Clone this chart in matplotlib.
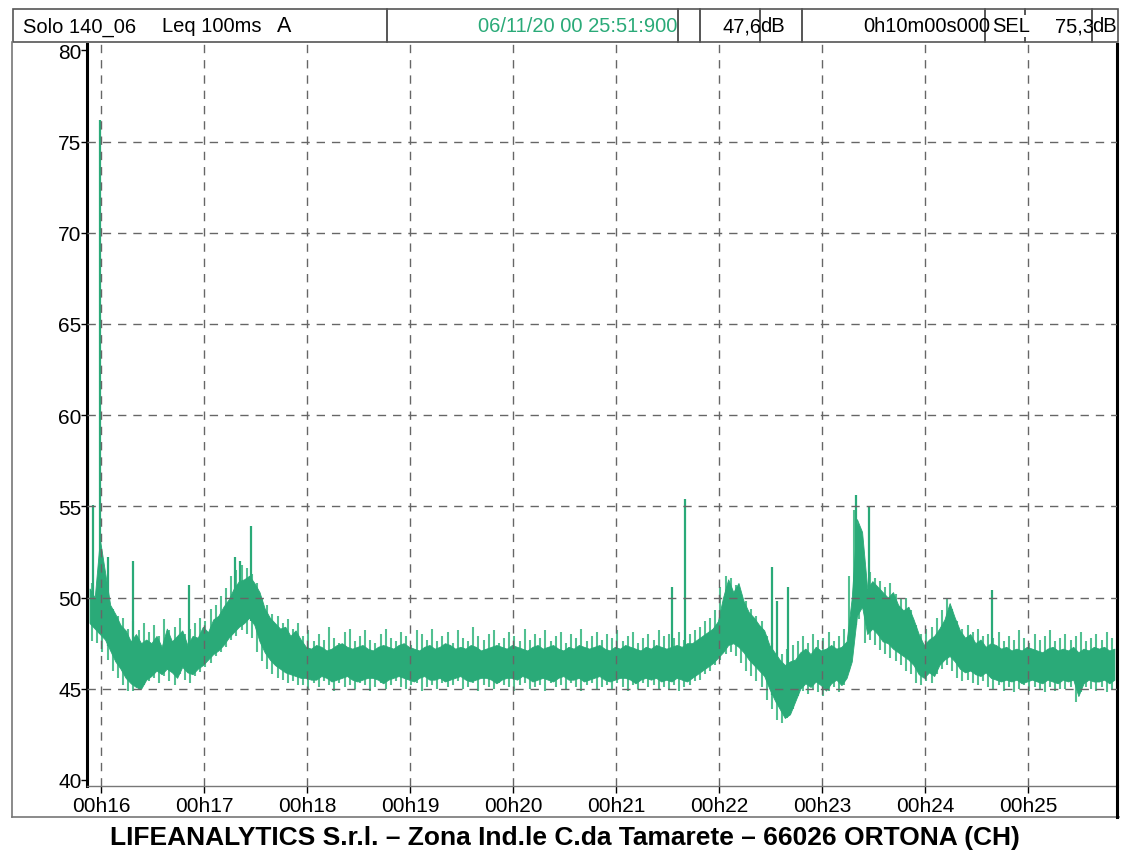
#!/usr/bin/env python3
"""Leq 100ms A-weighted noise trace, 10 minute record"""
import matplotlib
matplotlib.use('Agg')
import matplotlib.pyplot as plt
import numpy as np
from matplotlib.patches import Rectangle
from matplotlib.lines import Line2D

plt.rcParams['font.family'] = ['Liberation Sans', 'DejaVu Sans']

# ---- data, 3 s bins: dense band low / high ----
t_start = 15.865          # minutes (00h15m51.9s)
bin_min = 0.05            # 3 seconds
lo = [48.6, 48.3, 48.0, 47.7, 47.1, 46.5, 46.1, 45.6, 45.3, 45.1,
      45.0, 45.5, 45.7, 46.0, 45.8, 46.1, 45.9, 45.6, 46.2, 45.9,
      45.8, 46.1, 46.3, 46.6, 46.9, 47.1, 47.4, 47.8, 48.1, 48.4,
      48.6, 48.9, 48.5, 47.6, 47.0, 46.6, 46.3, 46.1, 45.9, 45.8,
      45.7, 45.6,
      45.6, 45.5, 45.5, 45.7, 45.6, 45.4, 45.5, 45.6, 45.7, 45.5,
      45.4, 45.5, 45.6, 45.6, 45.5, 45.3, 45.5, 45.6, 45.7, 45.6,
      45.5, 45.4, 45.6, 45.7, 45.5, 45.5, 45.6, 45.4, 45.5, 45.6,
      45.7, 45.5, 45.4, 45.5, 45.6, 45.6, 45.5, 45.3, 45.5, 45.6,
      45.6, 45.5, 45.7, 45.6, 45.4, 45.5, 45.6, 45.5, 45.4, 45.6,
      45.7, 45.5, 45.5, 45.6, 45.4, 45.5, 45.6, 45.7, 45.5, 45.4,
      45.5, 45.6, 45.6, 45.5, 45.3, 45.5, 45.6, 45.5, 45.6, 45.4,
      45.5,
      45.4, 45.6, 45.5, 45.4, 45.6, 45.8, 46.0, 46.2, 46.4, 46.7,
      47.0, 47.4, 47.5, 47.3, 47.0, 46.6, 46.3, 46.0, 45.7, 45.0,
      44.4, 43.9, 43.4, 43.6, 44.3, 45.0, 45.3, 45.1, 45.4, 45.2,
      44.9, 45.3, 45.5, 45.2, 45.6, 46.5, 49.0, 49.5, 48.0, 48.3,
      48.0, 47.6, 47.5, 47.2, 47.0, 46.8, 46.6, 46.3, 45.8, 45.6,
      45.9, 45.7, 46.3, 46.6, 46.8, 46.5, 46.1, 45.9, 46.0, 45.8,
      45.7, 45.9, 45.6, 45.5, 45.4, 45.5, 45.4, 45.5, 45.3, 45.4,
      45.5, 45.4, 45.3, 45.5, 45.4, 45.3, 45.5, 45.4, 45.5, 44.6,
      45.3, 45.5, 45.4, 45.4, 45.5, 45.3, 45.5]
hi = [50.5, 50.0, 53.2, 51.4, 49.6, 49.1, 48.5, 48.2, 47.6, 48.0,
      47.5, 47.7, 47.5, 47.9, 47.3, 48.3, 47.6, 47.9, 48.2, 47.4,
      47.9, 47.8, 48.4, 48.1, 48.8, 49.0, 49.5, 49.9, 50.5, 50.9,
      51.0, 51.2, 50.8, 50.3, 49.4, 48.9, 48.6, 48.3, 48.4, 47.9,
      48.2, 47.7,
      47.3, 47.2, 47.4, 47.3, 47.1, 47.2, 47.4, 47.5, 47.3, 47.2,
      47.3, 47.4, 47.2, 47.1, 47.3, 47.4, 47.3, 47.2, 47.4, 47.5,
      47.3, 47.2, 47.1, 47.3, 47.4, 47.2, 47.3, 47.5, 47.4, 47.2,
      47.3, 47.2, 47.4, 47.3, 47.1, 47.2, 47.3, 47.4, 47.3, 47.2,
      47.4, 47.3, 47.2, 47.1, 47.3, 47.4, 47.2, 47.3, 47.4, 47.2,
      47.1, 47.3, 47.2, 47.4, 47.3, 47.2, 47.3, 47.4, 47.2, 47.1,
      47.3, 47.2, 47.4, 47.3, 47.2, 47.1, 47.3, 47.2, 47.4, 47.3,
      47.2,
      47.3, 47.4, 47.3, 47.5, 47.5, 47.7, 47.9, 48.1, 48.3, 48.7,
      50.0, 51.0, 50.3, 50.8, 49.8, 49.2, 48.9, 48.5, 48.2, 47.4,
      47.0, 46.6, 46.3, 46.5, 46.6, 47.0, 47.2, 46.9, 47.3, 47.1,
      47.2, 47.4, 47.2, 47.3, 47.6, 50.0, 54.3, 53.6, 50.5, 50.9,
      50.6, 50.3, 50.0, 50.3, 49.6, 49.3, 49.5, 48.8, 48.0, 47.4,
      47.7, 47.9, 48.3, 48.8, 49.7, 48.9, 48.2, 47.8, 48.0, 47.5,
      47.7, 47.3, 47.5, 47.4, 47.2, 47.3, 47.1, 47.2, 47.1, 47.3,
      47.2, 47.1, 47.0, 47.2, 47.3, 47.1, 47.2, 47.1, 47.3, 47.0,
      47.2, 47.1, 47.3, 47.2, 47.3, 47.1, 47.2]

# short excursions out of the band, one every 3 s (between bin centres)
tips = [51.5, 50.8, 49.9, 50.6, 49.8, 49.4, 49.0, 48.9, 48.3, 48.7,
        48.2, 48.6,
        48.1, 48.5, 47.9, 48.8, 48.2, 48.4, 48.9, 48.0, 48.3, 48.6,
        48.9, 48.7, 49.4, 49.6, 50.1, 50.5, 51.2, 51.5, 51.8, 51.6,
        51.3,
        50.8, 50.0, 49.6, 49.1, 49.0, 48.6, 48.8, 48.3, 48.6,
        47.9, 48.2, 47.6, 48.0, 47.7, 48.4, 47.8, 47.5, 48.1, 48.3,
        47.6, 47.9, 48.2, 47.7, 47.5, 48.0, 48.3, 47.8, 47.6, 48.1,
        47.9, 47.4, 48.2, 48.0, 47.7, 48.3, 47.6, 47.9, 48.1, 47.5,
        48.2, 47.8, 47.6, 48.4, 47.9, 47.7, 48.0, 48.2, 47.5, 47.8,
        48.1, 47.9, 47.6, 48.3, 47.7, 48.0, 47.8, 48.2, 47.6, 47.9,
        48.1, 47.5, 48.0, 47.8, 48.3, 47.6, 47.9, 48.1, 47.7, 48.0,
        47.8, 48.2, 47.6, 47.9, 48.1, 47.5, 47.8, 48.0, 47.7, 48.2,
        47.9,
        48.0, 47.8, 48.1, 47.7, 48.0,
        48.2, 48.4, 48.7, 48.9, 49.3, 50.6, 51.2, 51.1, 50.7, 50.2,
        49.8, 49.4, 49.0, 48.7,
        47.9, 47.5, 47.0, 46.9, 47.2, 47.4,
        47.6, 47.9, 47.5, 48.0, 47.7, 47.8, 48.1, 47.6, 47.9, 48.3,
        51.2, 54.8, 53.0, 51.0, 51.4, 51.1,
        50.9, 50.6, 50.8, 50.2, 49.9, 50.0, 49.3,
        48.5, 48.0, 48.3, 48.4, 48.9, 49.3, 49.9, 49.4,
        48.7, 48.3, 48.5, 48.1, 48.3, 47.9, 48.0,
        47.8, 48.1, 47.6, 47.9, 47.7, 48.2, 47.8, 47.5, 48.0, 47.7,
        47.9, 48.2, 47.6, 47.8, 48.0, 47.7, 47.9, 48.1, 47.6, 47.8,
        48.0, 47.7, 48.1, 47.8]
dips = [48.0, 47.6, 47.5, 47.0, 46.6, 46.0, 45.6, 45.2, 44.9, 44.9,
        45.0, 45.2,
        45.4, 45.6, 45.3, 45.7, 45.4, 45.2, 45.8, 45.5, 45.3, 45.7,
        45.9, 46.2, 46.4, 46.8, 47.0, 47.3, 47.7, 47.9, 48.2, 48.0,
        47.8,
        47.0, 46.5, 46.1, 45.8, 45.6, 45.5, 45.3, 45.4, 45.2,
        45.2, 45.0, 45.3, 45.1, 45.4, 45.2, 44.9, 45.3, 45.1, 45.2,
        45.0, 45.3, 45.2, 44.9, 45.1, 45.3, 45.0, 45.2, 45.4, 45.1,
        45.0, 45.2, 45.3, 44.9, 45.1, 45.2, 45.0, 45.3, 45.1, 45.2,
        45.4, 45.0, 45.1, 45.3, 44.9, 45.2, 45.1, 45.0, 45.3, 45.2,
        45.1, 44.9, 45.2, 45.3, 45.0, 45.1, 45.2, 44.9, 45.3, 45.1,
        45.2, 45.0, 45.3, 45.1, 44.9, 45.2, 45.3, 45.0, 45.1, 45.2,
        45.0, 45.3, 45.1, 44.9, 45.2, 45.0, 45.3, 45.1, 45.2, 45.0,
        45.1,
        45.0, 45.2, 44.9, 45.1, 45.2,
        45.4, 45.5, 45.8, 46.0, 46.3, 46.6, 46.9, 47.0, 46.8, 46.4,
        46.0, 45.7, 45.4, 45.1,
        44.4, 43.9, 43.3, 43.1, 43.4, 43.9,
        44.6, 44.9, 44.7, 45.0, 44.8, 44.6, 44.9, 45.1, 44.8, 45.2,
        46.0, 48.2, 48.8, 47.5, 47.7, 47.4,
        47.1, 46.9, 46.7, 46.5, 46.3, 46.0, 45.8,
        45.3, 45.2, 45.4, 45.3, 45.8, 46.1, 46.3, 46.0,
        45.6, 45.4, 45.5, 45.3, 45.2, 45.4, 45.1,
        45.0, 45.2, 44.9, 45.1, 44.8, 45.0, 45.2, 44.9, 45.1, 45.0,
        44.8, 45.1, 44.9, 45.0, 45.0, 45.1, 44.3, 44.8, 45.1, 45.0,
        44.9, 45.1, 44.8, 45.0]

# single-sample spikes
spike_t = [15.87, 15.92, 15.99, 16.07, 16.31, 16.86, 17.30, 17.35, 17.46,
           21.54, 21.67, 22.52, 22.56, 22.67, 23.33, 23.46, 24.65]
spike_v = [59.2, 55.1, 76.2, 52.2, 52.0, 50.7, 52.2, 52.0, 53.9,
           50.6, 55.4, 51.7, 49.8, 50.6, 55.6, 55.0, 50.4]

y_ticks = [40, 45, 50, 55, 60, 65, 70, 75, 80]
x_ticks = [16, 17, 18, 19, 20, 21, 22, 23, 24, 25]
x_labels = ['00h16', '00h17', '00h18', '00h19', '00h20',
            '00h21', '00h22', '00h23', '00h24', '00h25']

hdr_name = 'Solo 140_06'
hdr_meas = 'Leq 100ms'
hdr_weight = 'A'
hdr_time = '06/11/20 00 25:51:900'
hdr_leq = '47,6'
hdr_dur = '0h10m00s000'
hdr_sel = '75,3'
footer = 'LIFEANALYTICS S.r.l. \u2013 Zona Ind.le C.da Tamarete \u2013 66026 ORTONA (CH)'

GREEN = '#2aaa78'
GREEN_LT = '#52c091'
GRID = '#666666'

W, H = 1121, 854
fig = plt.figure(figsize=(W / 100, H / 100), dpi=100, facecolor='white')


def fx(x):
    return x / W


def fy(y):
    return 1 - y / H


ax = fig.add_axes([fx(87), fy(787), fx(1117) - fx(87), fy(45) - fy(787)])

n = len(lo)
t = t_start + np.arange(n) * bin_min + bin_min / 2
tip_t = t_start + np.arange(len(tips)) * bin_min
ax.vlines(tip_t, dips, tips, color=GREEN_LT, lw=1.5, zorder=2)
ax.fill_between(t, lo, hi, color=GREEN, lw=0.6, ec=GREEN, zorder=2)
base = np.interp(spike_t, t, lo)
ax.vlines(spike_t, base, spike_v, color=GREEN, lw=1.6, zorder=2)

for v in y_ticks[1:-1]:
    ax.axhline(v, color=GRID, lw=1.0, ls=(0, (6, 5)), zorder=3)
for m in x_ticks:
    ax.axvline(m, color=GRID, lw=1.0, ls=(0, (6, 5)), zorder=3)

ax.set_xlim(t_start, t_start + 10)
ax.set_ylim(39.67, 80.35)
ax.set_yticks(y_ticks)
ax.set_yticklabels([str(v) for v in y_ticks], fontsize=15)
ax.set_xticks(x_ticks)
ax.set_xticklabels(x_labels, fontsize=15)
ax.tick_params(axis='y', length=4, width=1, pad=0)
ax.tick_params(axis='x', length=5, width=1, pad=2)

ax.spines['top'].set_visible(False)
ax.spines['left'].set_linewidth(2.2)
ax.spines['right'].set_linewidth(2.2)
ax.spines['bottom'].set_color('#777777')
ax.spines['bottom'].set_linewidth(1.0)

# header boxes
boxes = [(13, 387), (387, 678), (678, 700), (700, 760), (760, 802),
         (802, 985), (985, 1025), (1025, 1092), (1092, 1118)]
for x0, x1 in boxes:
    fig.add_artist(Rectangle((fx(x0), fy(43)), fx(x1) - fx(x0), fy(10) - fy(43),
                             transform=fig.transFigure, fill=False,
                             ec='#555555', lw=1.2))

ty = fy(27)
fs = 14.5
fig.text(fx(23), ty, hdr_name, va='center', fontsize=fs)
fig.text(fx(162), ty, hdr_meas, va='center', fontsize=fs)
fig.text(fx(277), ty, hdr_weight, va='center', fontsize=fs + 1)
fig.text(fx(677), ty, hdr_time, va='center', ha='right', fontsize=fs, color=GREEN)
fig.text(fx(762), ty, hdr_leq, va='center', ha='right', fontsize=fs)
fig.text(fx(760), ty, 'dB', va='center', ha='left', fontsize=fs)
fig.text(fx(990), ty, hdr_dur, va='center', ha='right', fontsize=fs)
fig.text(fx(992), ty, 'SEL', va='center', ha='left', fontsize=fs,
         bbox=dict(boxstyle='square,pad=0.08', fc='white', ec='none'))
fig.text(fx(1094), ty, hdr_sel, va='center', ha='right', fontsize=fs)
fig.text(fx(1092), ty, 'dB', va='center', ha='left', fontsize=fs)

# outer frame
fig.add_artist(Line2D([fx(12), fx(12)], [fy(43), fy(818)],
                      transform=fig.transFigure, color='#777777', lw=1.2))
fig.add_artist(Line2D([fx(12), fx(1119)], [fy(818), fy(818)],
                      transform=fig.transFigure, color='#777777', lw=1.2))
fig.add_artist(Line2D([fx(1117), fx(1117)], [fy(787), fy(818)],
                      transform=fig.transFigure, color='black', lw=2.2))

fig.text(fx(565), fy(838), footer, ha='center', va='center',
         fontsize=19, fontweight='bold')

fig.savefig('out.png', dpi=100, facecolor='white')
plt.close()
